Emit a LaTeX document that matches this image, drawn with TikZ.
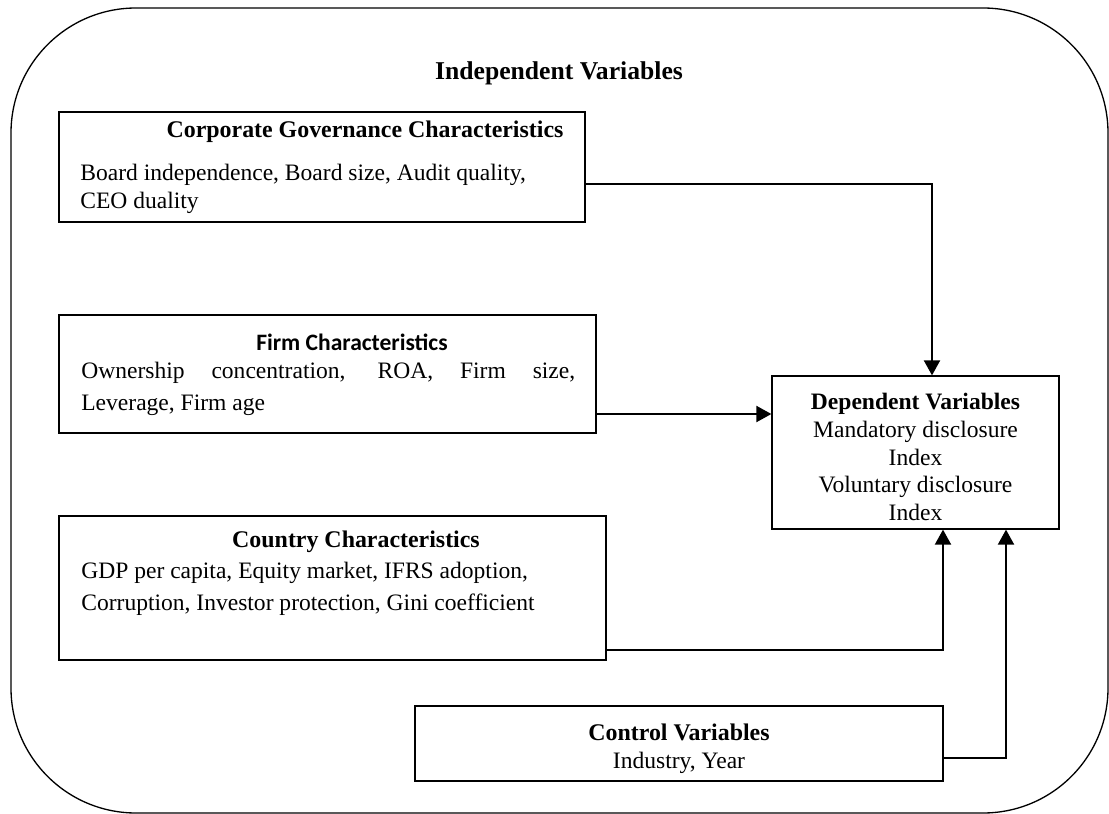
\documentclass[tikz,border=0pt]{standalone}
\usepackage{fontspec}
\setmainfont{Liberation Serif}
\newfontfamily\calibri{Carlito}
\usetikzlibrary{arrows.meta}

\begin{document}
\begin{tikzpicture}[x=0.02cm,y=-0.02cm,
    box/.style={draw,line width=0.75pt,inner sep=0pt},
    txt/.style={inner sep=0pt,font=\fontsize{13.4}{15.9}\selectfont},
    hd/.style={inner sep=0pt,font=\bfseries\fontsize{13.6}{15.9}\selectfont},
    arr/.style={-{Triangle[length=0.3cm,width=0.32cm]},line width=1.2pt}]
        \useasboundingbox (0,0) rectangle (1109,814);
        \draw[line width=0.75pt,rounded corners=2.5cm] (11,8) rectangle (1108,813);
        \node[hd,font=\bfseries\fontsize{14.6}{17}\selectfont] (title) at (559,73) {Independent Variables};
        \node[box,minimum width=10.52cm,minimum height=2.2cm] (cg) at (322,167) {};
        \node[hd] (cgT) at (365,132) {Corporate Governance Characteristics};
        \node[txt,anchor=west,align=left] (cgB) at (80,189) {Board independence, Board size, Audit quality,\\CEO duality};
        \node[box,minimum width=10.74cm,minimum height=2.36cm] (firm) at (327.5,374) {};
        \node[inner sep=0pt,font=\calibri\bfseries\fontsize{13.4}{16}\selectfont] (firmT) at (352,342) {Firm Characteristics};
        \node[txt,font=\fontsize{13.4}{18}\selectfont,anchor=west,text width=9.88cm,align=justify] (firmB) at (81,389) {Ownership concentration, ROA, Firm size,\linebreak Leverage, Firm age};
        \node[box,minimum width=10.94cm,minimum height=2.88cm] (country) at (332.5,588) {};
        \node[hd] (countryT) at (356,542) {Country Characteristics};
        \node[txt,font=\fontsize{13.4}{18}\selectfont,anchor=west,align=left] (countryB) at (81,589) {GDP per capita, Equity market, IFRS adoption,\\Corruption, Investor protection, Gini coefficient};
        \node[box,minimum width=5.74cm,minimum height=3.06cm] (dep) at (915.5,452.5) {};
        \node[txt,align=center] (depT) at (915.5,457) {\textbf{Dependent Variables}\\Mandatory disclosure\\Index\\Voluntary disclosure\\Index};
        \node[box,minimum width=10.56cm,minimum height=1.5cm] (control) at (679,743.5) {};
        \node[hd] (controlT) at (679,732) {Control Variables};
        \node[txt] (controlB) at (679,763) {Industry, Year};
        \draw[arr] (cg.east |- 0,184) -| (dep.north -| 932,0);
        \draw[arr] (firm.east |- 0,414) -- (dep.west |- 0,414);
        \draw[arr] (country.east |- 0,650) -| (dep.south -| 943,0);
        \draw[arr] (control.east |- 0,758) -| (dep.south -| 1006,0);
    \end{tikzpicture}
\end{document}
